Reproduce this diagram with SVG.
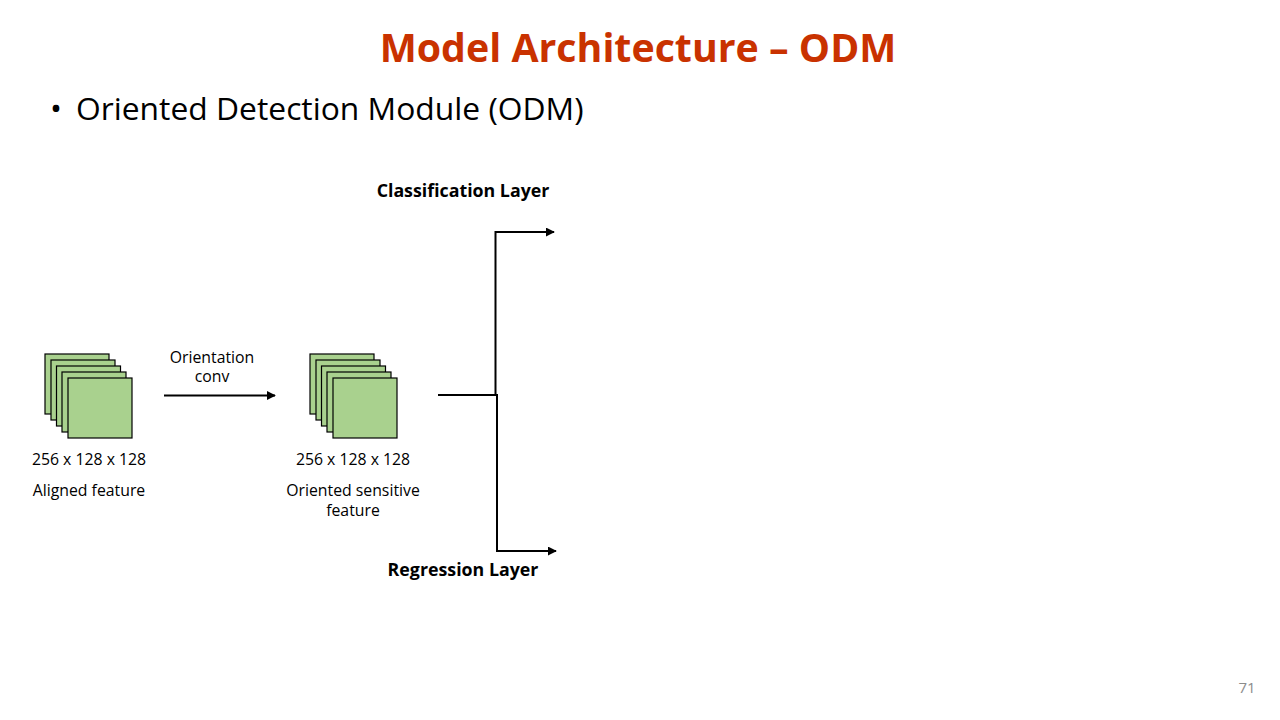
<svg xmlns="http://www.w3.org/2000/svg" width="1280" height="720" viewBox="0 0 1280 720">
<style>
text{font-family:"Open Sans","Noto Sans","Liberation Sans",sans-serif;fill:#000}
.title{font-size:39.3px;font-weight:bold;fill:#C93200}
.bullet{font-size:31.8px}
.lbl{font-size:15.8px}
.bold{font-size:17.8px;font-weight:bold}
.pg{font-size:15px;fill:#8c8c8c}
.sq{fill:#A9D18E;stroke:#000;stroke-width:1.2}
.ln{fill:none;stroke:#000;stroke-width:2}
</style>
<defs>
<marker id="arr" viewBox="0 0 10 10" refX="9" refY="5" markerWidth="4.5" markerHeight="4.5" orient="auto" markerUnits="strokeWidth">
<path d="M0,0 L10,5 L0,10 Z" fill="#000"/>
</marker>
</defs>
<rect width="1280" height="720" fill="#fff"/>
<text class="title" x="638" y="62" text-anchor="middle">Model Architecture – ODM</text>
<text class="bullet" x="50" y="120">•</text>
<text class="bullet" x="76" y="120">Oriented Detection Module (ODM)</text>

<g id="aligned-feature">
<rect class="sq" x="45" y="354" width="64" height="60"/>
<rect class="sq" x="51" y="360" width="64" height="60"/>
<rect class="sq" x="56.5" y="366" width="64" height="60"/>
<rect class="sq" x="62" y="372" width="64" height="60"/>
<rect class="sq" x="68" y="378" width="64" height="60"/>
<text class="lbl" x="89" y="465" text-anchor="middle">256 x 128 x 128</text>
<text class="lbl" x="89" y="496" text-anchor="middle">Aligned feature</text>
</g>

<g id="oriented-feature">
<rect class="sq" x="310" y="354" width="64" height="60"/>
<rect class="sq" x="316" y="360" width="64" height="60"/>
<rect class="sq" x="321.5" y="366" width="64" height="60"/>
<rect class="sq" x="327" y="372" width="64" height="60"/>
<rect class="sq" x="333" y="378" width="64" height="60"/>
<text class="lbl" x="353" y="465" text-anchor="middle">256 x 128 x 128</text>
<text class="lbl" text-anchor="middle"><tspan x="353" y="496">Oriented sensitive</tspan><tspan x="353" y="515.5">feature</tspan></text>
</g>

<g id="classification-layer">
<text class="bold" x="463" y="197" text-anchor="middle">Classification Layer</text>
</g>
<g id="regression-layer">
<text class="bold" x="463" y="576" text-anchor="middle">Regression Layer</text>
</g>

<g id="connectors">
<line class="ln" x1="164" y1="395.5" x2="275" y2="395.5" marker-end="url(#arr)"/>
<text class="lbl" text-anchor="middle"><tspan x="212" y="362.5">Orientation</tspan><tspan x="212" y="382">conv</tspan></text>
<polyline class="ln" points="438,395 495.5,395 495.5,232 554,232" marker-end="url(#arr)"/>
<polyline class="ln" points="438,395 497,395 497,551 556,551" marker-end="url(#arr)"/>
</g>

<text class="pg" x="1247" y="693" text-anchor="middle">71</text>
</svg>
